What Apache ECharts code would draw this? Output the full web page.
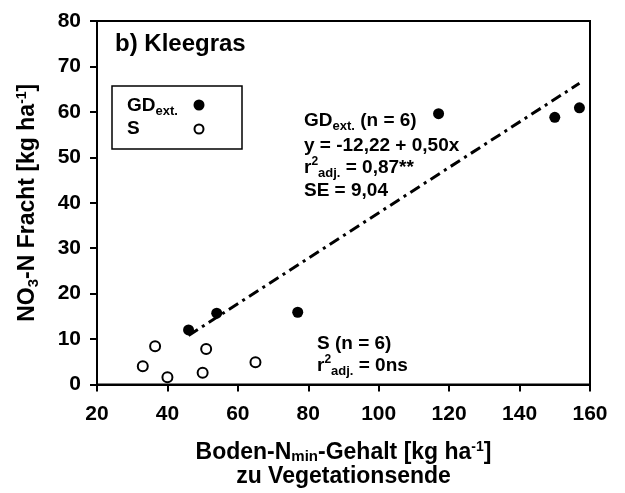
<!DOCTYPE html>
<html>
<head>
<meta charset="utf-8">
<script src="https://cdn.jsdelivr.net/npm/echarts@6/dist/echarts.min.js"></script>
<style>
  html, body { margin: 0; background: #fff; }
  #chart { width: 625px; height: 493px; }
</style>
</head>
<body>
<div id="chart"></div>
<script>
// GD ext. (filled) and S (open) points
const gdX = [46, 54, 77, 117, 150, 157];
const gdY = [12, 15.7, 15.9, 59.6, 58.8, 60.9];
const sX = [33, 36.5, 40, 50, 51, 65];
const sY = [4, 8.4, 1.6, 2.6, 7.8, 4.9];

// regression for GD ext.: y = -12,22 + 0,50x, drawn over the range of the points
const trendIntercept = -12.22;
const trendSlope = 0.5;
const trendRange = [46, 157];

const FONT = '"Liberation Sans", Arial, sans-serif';
const BLACK = '#000';

const chart = echarts.init(document.getElementById('chart'));

// rich text pieces for sub/superscripts (color for option text, fill for graphic)
function richStyles(size, lh, small) {
  lh = lh || 24;
  small = small || 13;
  const base = { fontWeight: 'bold', fontFamily: FONT, color: BLACK, fill: BLACK };
  return {
    n: Object.assign({ fontSize: size, lineHeight: lh }, base),
    sub: Object.assign({ fontSize: small, lineHeight: Math.round(lh * 0.42), verticalAlign: 'bottom' }, base),
    sup: Object.assign({ fontSize: small - 1, lineHeight: Math.round(lh * 0.58), verticalAlign: 'top' }, base)
  };
}

function label(x, y, text, size) {
  return {
    type: 'text', x: x, y: y,
    style: { text: text, rich: richStyles(size || 19), align: 'left', verticalAlign: 'middle' }
  };
}

const gdPoints = gdX.map((x, i) => [x, gdY[i]]);
const sPoints = sX.map((x, i) => [x, sY[i]]);
const trendPoints = trendRange.map((x) => [x, trendIntercept + trendSlope * x]);

const tickLabel = { color: BLACK, fontSize: 21, fontWeight: 'bold', fontFamily: FONT };

chart.setOption({
  animation: false,
  grid: {
    left: 97, right: 35, top: 21, bottom: 108,
    show: true, borderColor: BLACK, borderWidth: 2, backgroundColor: 'transparent'
  },
  xAxis: {
    type: 'value', min: 20, max: 160, interval: 20,
    axisLine: { lineStyle: { color: BLACK, width: 2 } },
    axisTick: { length: 7, lineStyle: { color: BLACK, width: 2 } },
    splitLine: { show: false },
    axisLabel: Object.assign({ margin: 19 }, tickLabel),
    name: '{n|Boden-N}{sub|min}{n|-Gehalt [kg ha}{sup|-1}{n|]}\n{n|zu Vegetationsende}',
    nameLocation: 'middle',
    nameGap: 56,
    nameTextStyle: { rich: richStyles(23, 24, 15) }
  },
  yAxis: {
    type: 'value', min: 0, max: 80, interval: 10,
    axisLine: { lineStyle: { color: BLACK, width: 2 } },
    axisTick: { length: 7, lineStyle: { color: BLACK, width: 2 } },
    splitLine: { show: false },
    axisLabel: Object.assign({ margin: 16 }, tickLabel),
    name: '{n|NO}{sub|3}{n|-N Fracht [kg ha}{sup|-1}{n|]}',
    nameLocation: 'middle',
    nameRotate: 90,
    nameGap: 56,
    nameTextStyle: { rich: richStyles(23, 26, 15) }
  },
  series: [
    {
      name: 'trend', type: 'line', data: trendPoints, symbol: 'none',
      lineStyle: { color: BLACK, width: 3, type: [11, 5, 3, 5] },
      z: 1
    },
    {
      name: 'GD ext.', type: 'scatter', data: gdPoints, symbol: 'circle', symbolSize: 11,
      itemStyle: { color: BLACK, opacity: 1 }, z: 3
    },
    {
      name: 'S', type: 'scatter', data: sPoints, symbol: 'circle', symbolSize: 10,
      itemStyle: { color: '#fff', borderColor: BLACK, borderWidth: 2, opacity: 1 }, z: 3
    }
  ],
  graphic: [
    label(115, 44, '{n|b) Kleegras}', 24),
    // legend box
    {
      type: 'rect', shape: { x: 112, y: 86, width: 130, height: 63 },
      style: { fill: '#fff', stroke: BLACK, lineWidth: 1.5 }
    },
    label(127, 106, '{n|GD}{sub|ext.}'),
    label(127, 129, '{n|S}'),
    { type: 'circle', shape: { cx: 199, cy: 105, r: 5.5 }, style: { fill: BLACK } },
    { type: 'circle', shape: { cx: 199, cy: 129, r: 4.5 }, style: { fill: '#fff', stroke: BLACK, lineWidth: 2 } },
    // GD ext. statistics
    label(304, 121, '{n|GD}{sub|ext.}{n| (n = 6)}'),
    label(304, 146, '{n|y = -12,22 + 0,50x}'),
    label(304, 168, '{n|r}{sup|2}{sub|adj.}{n| = 0,87**}'),
    label(304, 191, '{n|SE = 9,04}'),
    // S statistics
    label(317, 344, '{n|S (n = 6)}'),
    label(317, 366, '{n|r}{sup|2}{sub|adj.}{n| = 0ns}')
  ]
});
</script>
</body>
</html>
